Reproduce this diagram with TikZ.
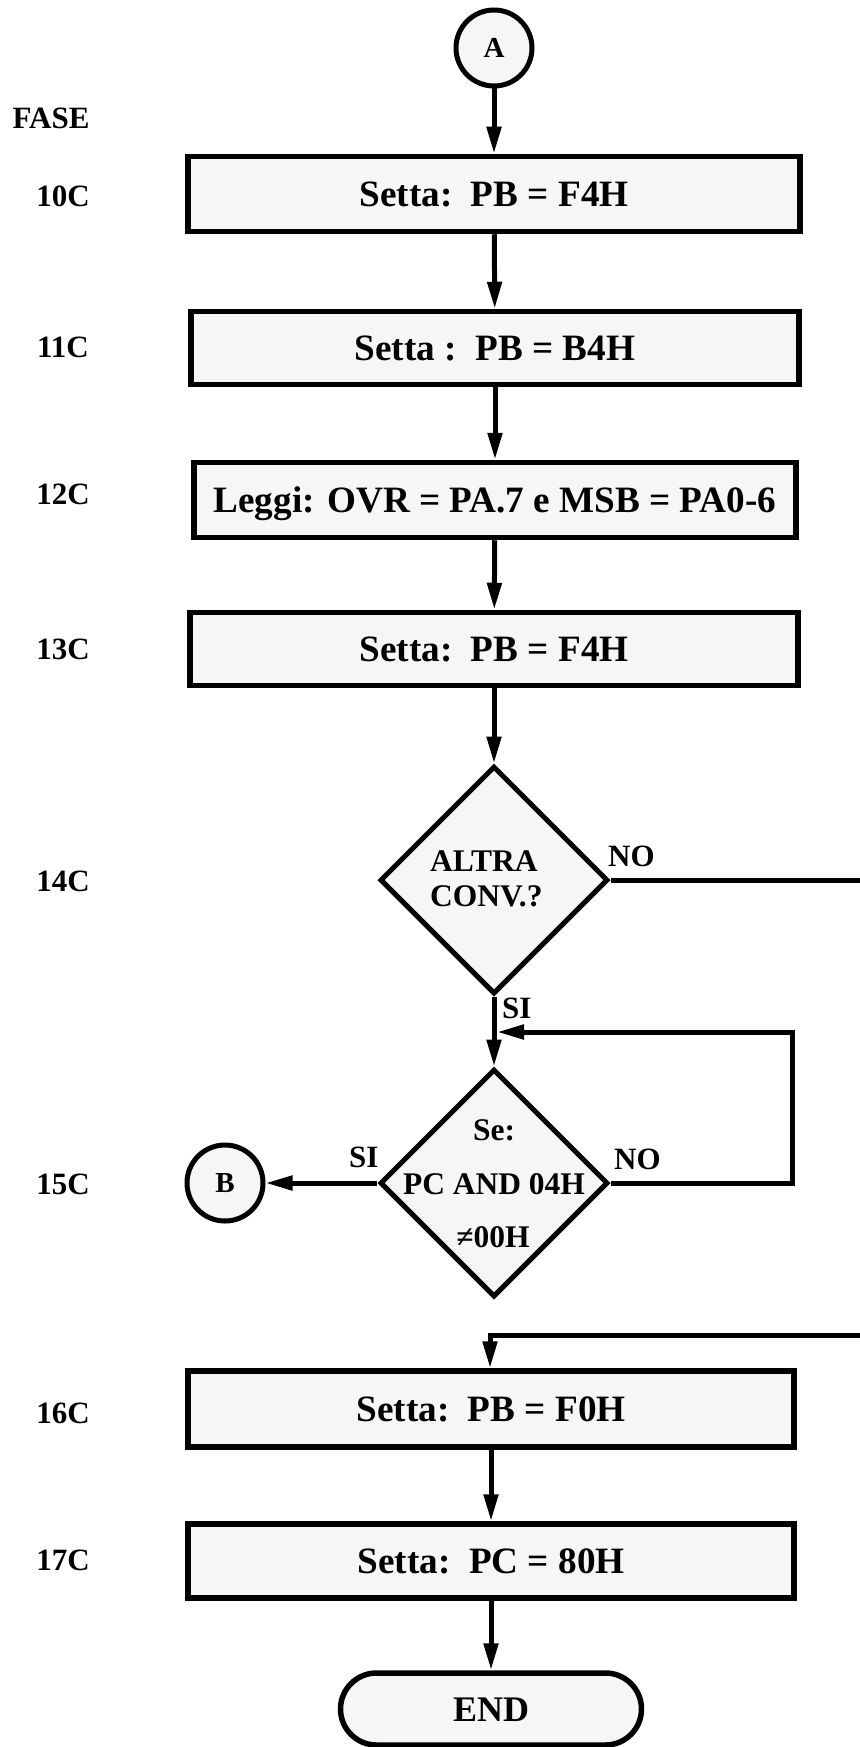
\documentclass[tikz,border=0pt]{standalone}
\usepackage{fontspec}
\setmainfont{Liberation Serif}
\usetikzlibrary{arrows.meta,shapes.geometric}
\definecolor{boxfill}{RGB}{246,246,246}
\begin{document}
\begin{tikzpicture}[x=1pt,y=-1pt,
  procbox/.style={draw, line width=5.5pt, fill=boxfill, rectangle, inner sep=0pt,
    font=\bfseries\fontsize{37.2}{40}\selectfont, text height=24.6pt, text depth=0pt},
  decbox/.style={draw, line width=5pt, fill=boxfill, diamond, inner sep=0pt,
    minimum width=228pt, minimum height=228pt},
  conncirc/.style={draw, line width=5pt, fill=boxfill, circle, inner sep=0pt,
    minimum size=76pt, font=\bfseries\fontsize{29}{32}\selectfont},
  conn/.style={line width=5pt, -{Triangle[length=27pt,width=14pt]}},
  plainline/.style={line width=5pt},
  phase/.style={anchor=base, inner sep=0pt, font=\bfseries\fontsize{31}{34}\selectfont},
  dtext/.style={anchor=base, inner sep=0pt, font=\bfseries\fontsize{31.5}{34}\selectfont},
  branch/.style={anchor=base west, inner sep=0pt, font=\bfseries\fontsize{31}{34}\selectfont}
]
\useasboundingbox (0,0) rectangle (859,1747);

% phase labels
\node[phase] (lfase) at (51,129) {FASE};
\node[phase] (l10) at (63,207) {10C};
\node[phase] (l11) at (63,357) {11C};
\node[phase] (l12) at (63,504) {12C};
\node[phase] (l13) at (63,659) {13C};
\node[phase] (l14) at (63,891) {14C};
\node[phase] (l15) at (63,1194) {15C};
\node[phase] (l16) at (63,1423) {16C};
\node[phase] (l17) at (63,1570) {17C};

% nodes
\node[conncirc] (A) at (494,48) {A};
\node[procbox, minimum width=612pt, minimum height=75pt] (b10) at (494,194) {Setta:~~PB = F4H};
\node[procbox, minimum width=608pt, minimum height=73pt] (b11) at (495,348) {Setta :~~PB = B4H};
\node[procbox, minimum width=602pt, minimum height=75pt] (b12) at (495,500) {Leggi: OVR = PA.7 e MSB = PA0-6};
\node[procbox, minimum width=608pt, minimum height=73pt] (b13) at (494,649) {Setta:~~PB = F4H};
\node[decbox] (d14) at (494,880) {};
\node[decbox] (d15) at (494,1183) {};
\node[conncirc] (B) at (225,1183) {B};
\node[procbox, minimum width=606pt, minimum height=76pt] (b16) at (491,1409) {Setta:~~PB = F0H};
\node[procbox, minimum width=606pt, minimum height=74pt] (b17) at (491,1561) {Setta:~~PC = 80H};
\node[procbox, rounded corners=36pt, minimum width=301pt, minimum height=72pt, font=\bfseries\fontsize{36}{40}\selectfont] (END) at (491,1709) {END};

% decision texts
\node[dtext, anchor=base west] (t14a) at (430,871) {ALTRA};
\node[dtext, anchor=base west] (t14b) at (430,906) {CONV.?};
\node[dtext] (t15a) at (494,1140) {Se:};
\node[dtext] (t15b) at (494,1194) {PC AND 04H};
\node[dtext] (t15c) at (493,1247) {≠00H};

% branch labels
\node[branch] (no14) at (608,866) {NO};
\node[branch] (si14) at (502,1018) {SI};
\node[branch] (si15) at (349,1167) {SI};
\node[branch] (no15) at (614,1169) {NO};

% connectors
\draw[conn] (A) -- (A |- b10.north);
\draw[conn] (b10) -- (b11);
\draw[conn] (b11) -- (b12);
\draw[conn] (b12) -- (b13);
\draw[conn] (b13) -- (b13 |- d14.north);
\draw[conn] (d14) -- (d15);
\draw[conn] (d15) -- (B);

\coordinate (noend) at (862,880);
\draw[plainline] (d14.east) -- (noend);

\coordinate (fbc) at (792,1032);
\coordinate (fbj) at (497,1032);
\draw[conn] (d15.east) -| (fbc) -- (fbj);

\coordinate (inc) at (862,1335);
\coordinate (incx) at (490,1335);
\draw[conn] (inc) -- (incx) -- (incx |- b16.north);
\draw[conn] (b16) -- (b17);
\draw[conn] (b17) -- (END);
\end{tikzpicture}
\end{document}
